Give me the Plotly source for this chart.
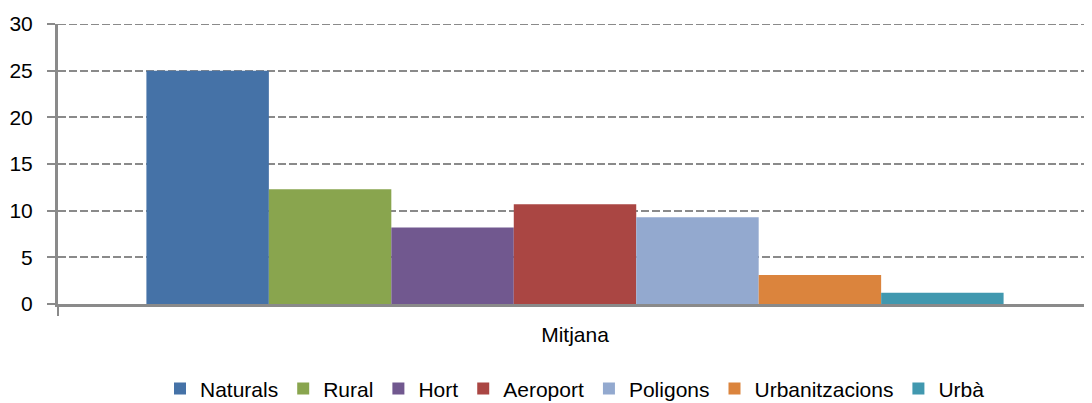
import plotly.graph_objects as go

# Data
category = ["Mitjana"]
series_names = ["Naturals", "Rural", "Hort", "Aeroport", "Poligons", "Urbanitzacions", "Urbà"]
series_values = [25.0, 12.3, 8.2, 10.7, 9.3, 3.1, 1.2]
series_colors = ["#4572A7", "#89A54E", "#71588F", "#AA4643", "#93A9CF", "#DB843D", "#4198AF"]

y_ticks = [0, 5, 10, 15, 20, 25, 30]

FONT = "Liberation Sans, Arial, sans-serif"
GRID = "#8a8a8a"

fig = go.Figure()
for name, val, col in zip(series_names, series_values, series_colors):
    fig.add_trace(go.Bar(x=category, y=[val], name=name, marker_color=col,
                         marker_line_width=0))

# page body has an 8px margin, so the figure is made 8px smaller each way
fig.update_layout(
    width=1084, height=395,
    margin=dict(l=50, r=0, t=16, b=99, autoexpand=False),
    paper_bgcolor="white", plot_bgcolor="white",
    barmode="group", bargap=0.171, bargroupgap=0,
    font=dict(family=FONT, size=21, color="#000000"),
    showlegend=True,
    legend=dict(orientation="h", x=0.5, xanchor="center", y=-0.23, yanchor="top",
                font=dict(size=21), traceorder="normal", itemwidth=30,
                bgcolor="rgba(0,0,0,0)"),
)

fig.update_yaxes(
    range=[0, 30], tickvals=y_ticks, showgrid=True, automargin=False,
    gridcolor=GRID, griddash="8px,3px", gridwidth=2,
    showline=True, linecolor=GRID, linewidth=3,
    ticks="outside", ticklen=8, tickcolor=GRID, tickwidth=2,
    ticklabelstandoff=10, zeroline=False, tickfont=dict(size=21),
)
fig.update_xaxes(
    showline=True, linecolor=GRID, linewidth=3, automargin=False,
    ticks="outside", tickson="boundaries", ticklen=9, tickcolor=GRID, tickwidth=2,
    ticklabelstandoff=10, showgrid=False, tickfont=dict(size=21),
)

# plotly drops the gridline on the top edge, so draw that one as a shape
fig.add_hline(y=y_ticks[-1], line=dict(color=GRID, width=2, dash="8px,3px"), layer="below")

fig.write_html("out.html")
